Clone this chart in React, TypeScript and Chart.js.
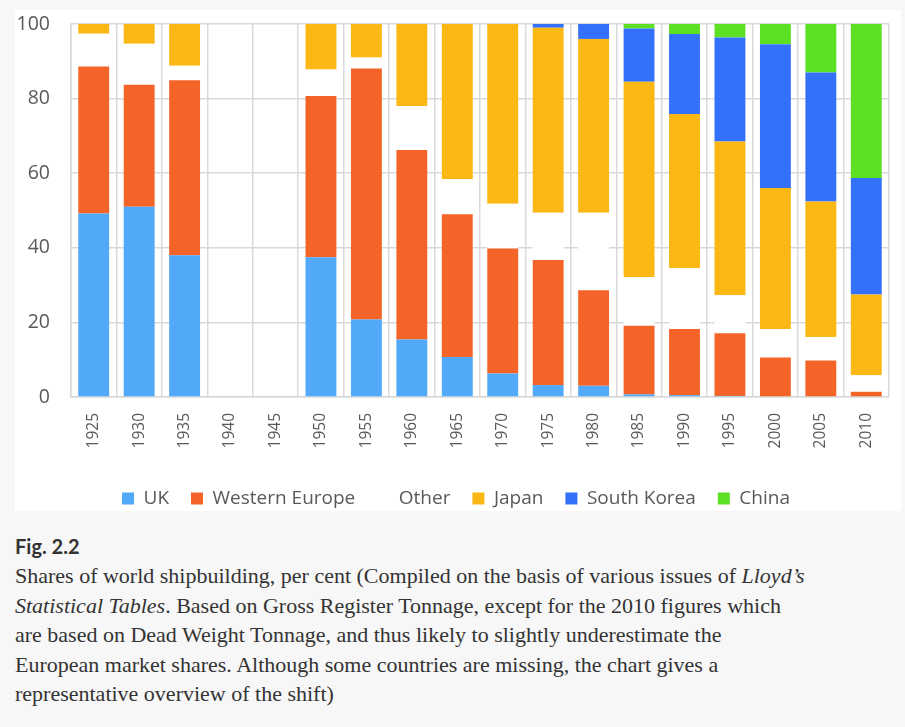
import React, { useEffect, useRef } from "react";
import { Chart, registerables } from "chart.js";

Chart.register(...registerables);

const years = ["1925", "1930", "1935", "1940", "1945", "1950", "1955", "1960", "1965", "1970", "1975", "1980", "1985", "1990", "1995", "2000", "2005", "2010"];

const ukShare = [49.2, 51.0, 38.0, null, null, 37.5, 20.8, 15.4, 10.7, 6.3, 3.2, 3.0, 0.7, 0.5, 0.3, 0, 0, 0];
const westernEuropeShare = [39.4, 32.7, 46.9, null, null, 43.2, 67.3, 50.8, 38.3, 33.5, 33.5, 25.6, 18.4, 17.7, 16.8, 10.6, 9.8, 1.4];
const otherShare = [8.8, 11.0, 3.9, null, null, 7.1, 2.9, 11.8, 9.4, 12.0, 12.7, 20.8, 13.1, 16.3, 10.2, 7.6, 6.3, 4.4];
const japanShare = [2.6, 5.3, 11.2, null, null, 12.2, 9.0, 22.0, 41.6, 48.2, 49.6, 46.6, 52.3, 41.4, 41.2, 37.8, 36.3, 21.7];
const southKoreaShare = [0, 0, 0, null, null, 0, 0, 0, 0, 0, 1.0, 4.0, 14.3, 21.4, 27.9, 38.6, 34.6, 31.2];
const chinaShare = [0, 0, 0, null, null, 0, 0, 0, 0, 0, 0, 0, 1.2, 2.7, 3.6, 5.4, 13.0, 41.3];

const seriesNames = ["UK", "Western Europe", "Other", "Japan", "South Korea", "China"];
const seriesColors = ["#51a9f7", "#f46428", "#ffffff", "#fbb713", "#3371fa", "#5ce024"];

const tickColor = "#595959";
const gridColor = "#d9d9d9";
const chartFont = "'Open Sans', 'Noto Sans', sans-serif";

export default function App() {
  const canvasRef = useRef<HTMLCanvasElement>(null);

  useEffect(() => {
    const values = [ukShare, westernEuropeShare, otherShare, japanShare, southKoreaShare, chinaShare];
    const chart = new Chart(canvasRef.current as HTMLCanvasElement, {
      type: "bar",
      data: {
        labels: years,
        datasets: seriesNames.map((name, i) => ({
          label: name,
          data: values[i],
          backgroundColor: seriesColors[i],
          borderColor: seriesColors[i],
          borderWidth: 0,
          barPercentage: 0.68,
          categoryPercentage: 1,
        })),
      },
      options: {
        responsive: false,
        animation: false,
        layout: { padding: { top: 14, right: 4, left: 0, bottom: 0 } },
        plugins: {
          tooltip: { enabled: false },
          legend: {
            position: "bottom",
            align: "center",
            labels: {
              boxWidth: 12,
              boxHeight: 12,
              padding: 22,
              color: tickColor,
              font: { family: chartFont, size: 19 },
            },
          },
        },
        scales: {
          x: {
            stacked: true,
            grid: { color: gridColor, lineWidth: 1.5, drawTicks: false, offset: true },
            border: { color: gridColor, width: 1.5 },
            ticks: {
              minRotation: 90,
              maxRotation: 90,
              autoSkip: false,
              padding: 16,
              color: tickColor,
              font: { family: chartFont, size: 15.5 },
            },
            afterFit: (scale: any) => {
              scale.height = 70;
            },
          },
          y: {
            stacked: true,
            min: 0,
            max: 100,
            grid: { color: gridColor, lineWidth: 1.5, drawTicks: true, tickLength: 21, tickColor: "rgba(0,0,0,0)" },
            border: { color: gridColor, width: 1.5 },
            ticks: {
              stepSize: 20,
              padding: 0,
              color: tickColor,
              font: { family: chartFont, size: 19.5 },
            },
            afterFit: (scale: any) => {
              scale.width = 56;
            },
          },
        },
      },
    });
    return () => chart.destroy();
  }, []);

  const bodyStyle: React.CSSProperties = {
    position: "absolute",
    left: 15,
    top: 561.1,
    margin: 0,
    fontFamily: "'Liberation Serif', 'Times New Roman', serif",
    fontSize: 22,
    lineHeight: "29.5px",
    color: "#333333",
    whiteSpace: "nowrap",
  };

  return (
    <div style={{ position: "absolute", left: 0, top: 0, width: 905, height: 727, background: "#f7f7f7", overflow: "hidden" }}>
      <div style={{ position: "absolute", left: 15, top: 10, width: 886, height: 501, background: "#ffffff" }} />
      <canvas
        ref={canvasRef}
        width={886}
        height={508}
        style={{ position: "absolute", left: 15, top: 10, width: 886, height: 508 }}
      />
      <div
        style={{
          position: "absolute",
          left: 15,
          top: 534.3,
          fontFamily: "Lato, 'Open Sans', sans-serif",
          fontWeight: 700,
          fontSize: 20,
          color: "#333333",
          whiteSpace: "nowrap",
        }}
      >
        Fig. 2.2
      </div>
      <div style={bodyStyle}>
        Shares of world shipbuilding, per cent (Compiled on the basis of various issues of <i>Lloyd’s</i>
        <br />
        <i>Statistical Tables</i>. Based on Gross Register Tonnage, except for the 2010 figures which
        <br />
        are based on Dead Weight Tonnage, and thus likely to slightly underestimate the
        <br />
        European market shares. Although some countries are missing, the chart gives a
        <br />
        representative overview of the shift)
      </div>
    </div>
  );
}
